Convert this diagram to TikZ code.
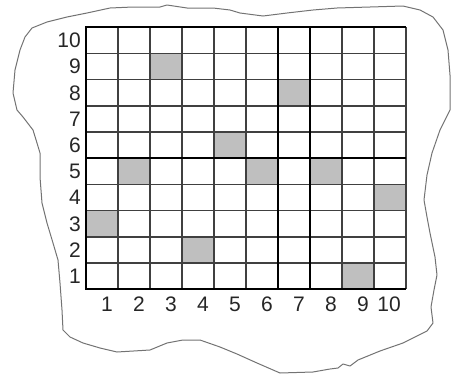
\documentclass[tikz,border=0pt]{standalone}
\usepackage{fontspec}
\setmainfont{Liberation Sans}
\begin{document}
\begin{tikzpicture}[x=1pt, y=-1pt,
    gridline/.style={draw=black!75, line width=1.3pt},
    boldline/.style={draw=black, line width=2.2pt},
    hit/.style={fill=black!25},
    lbl/.style={font=\fontsize{21}{22}\selectfont, inner sep=0pt, text=black!85},
    outline/.style={draw=black!55, line width=1pt, line join=round}
]
\useasboundingbox (0,0) rectangle (451,376);

% hand drawn outline
\draw[outline] (25,37) -- (32,28) -- (47,22) -- (67,17) -- (87,13) -- (110,8) -- (133,7)
  -- (160,7) -- (167,5) -- (187,8) -- (213,8) -- (230,10) -- (240,13) -- (263,16)
  -- (287,13) -- (313,10) -- (337,8) -- (370,7) -- (403,6) -- (420,10) -- (433,17)
  -- (443,30) -- (448,50) -- (450,75) -- (450,110) -- (440,130) -- (432,153)
  -- (427,175) -- (424,200) -- (427,217) -- (430,233) -- (435,257) -- (437,275)
  -- (434,290) -- (431,307) -- (433,323) -- (427,331) -- (403,343) -- (380,351)
  -- (358,360) -- (350,366) -- (343,364) -- (338,368) -- (330,369) -- (313,372)
  -- (280,373) -- (257,363) -- (237,354) -- (220,347) -- (200,340) -- (183,340)
  -- (167,343) -- (150,350) -- (117,352) -- (100,348) -- (83,343) -- (70,337)
  -- (63,330) -- (62,310) -- (60,283) -- (58,260) -- (53,243) -- (47,223)
  -- (42,203) -- (40,177) -- (40,153) -- (37,143) -- (33,130) -- (23,117)
  -- (17,110) -- (13,93) -- (15,70) -- (20,50) -- cycle;

% shaded cells (column/row)
\foreach \c/\r in {3/9, 7/8, 5/6, 2/5, 6/5, 8/5, 10/4, 1/3, 4/2, 9/1}
  \fill[hit] ({86+32*(\c-1)}, {289.3-26.2*\r}) rectangle ++(32,26.2);

% grid
\coordinate (sw) at (86,289.3);
\coordinate (ne) at (406,27.3);
\foreach \i in {1,...,10}
  \draw[gridline] ({86+32*\i},27.3) -- ({86+32*\i},289.3);
\foreach \j in {1,...,9}
  \draw[gridline] (86,{289.3-26.2*\j}) -- (406,{289.3-26.2*\j});
\draw[boldline] (278,27.3) -- (278,289.3);
\draw[boldline] (310,27.3) -- (310,289.3);
\draw[boldline] (86,158.3) -- (406,158.3);
\draw[boldline] (ne) -- (86,27.3) -- (sw) -- (406,289.3);

% labels
\foreach \k in {1,...,10} {
  \node[lbl, anchor=east] (r\k) at (81,{289.3-26.2*\k+13.1}) {\k};
  \node[lbl, anchor=east] (c\k) at ({86+32*\k-5},304) {\k};
}
\end{tikzpicture}
\end{document}
